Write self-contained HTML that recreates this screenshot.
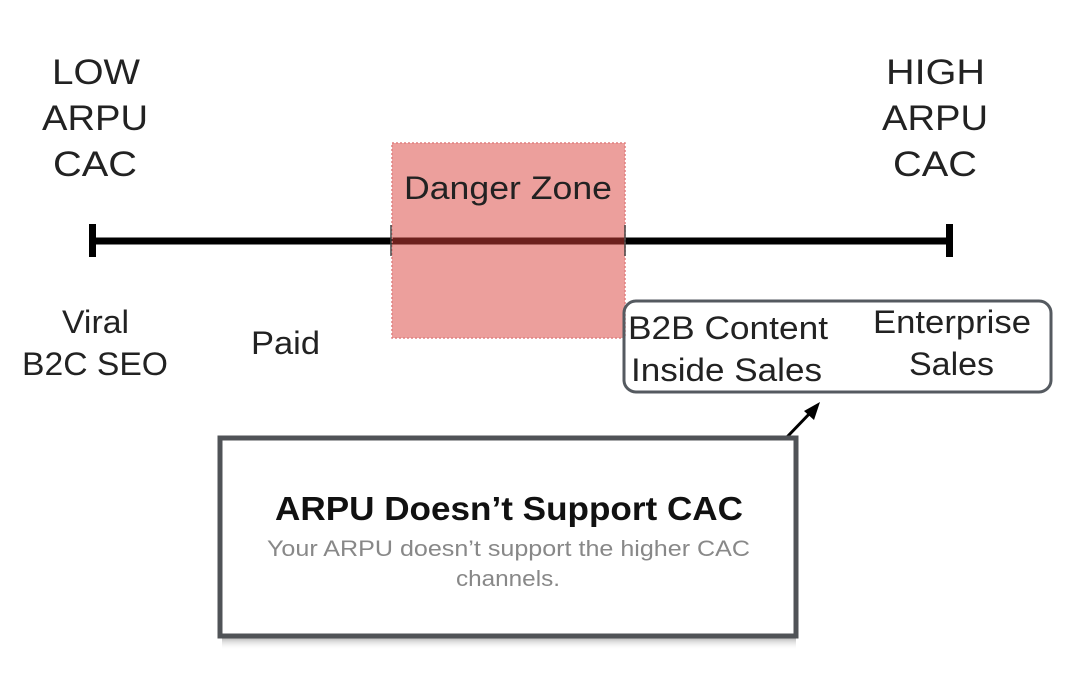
<!DOCTYPE html>
<html><head><meta charset="utf-8"><style>
html,body{margin:0;padding:0;background:#fff;}
svg{display:block;}
text{font-family:"Liberation Sans",sans-serif;}
</style></head><body>
<svg width="1078" height="688" viewBox="0 0 1078 688" xmlns="http://www.w3.org/2000/svg">
<defs>
<linearGradient id="sh" x1="0" y1="0" x2="0" y2="1">
<stop offset="0" stop-color="#777" stop-opacity="0.7"/><stop offset="1" stop-color="#fff" stop-opacity="0"/>
</linearGradient>
</defs>
<g font-size="35" fill="#222" lengthAdjust="spacingAndGlyphs">
<text x="52" y="84" textLength="88" lengthAdjust="spacingAndGlyphs">LOW</text>
<text x="42" y="130" textLength="106" lengthAdjust="spacingAndGlyphs">ARPU</text>
<text x="53" y="176" textLength="84" lengthAdjust="spacingAndGlyphs">CAC</text>
<text x="886" y="84" textLength="99" lengthAdjust="spacingAndGlyphs">HIGH</text>
<text x="882" y="130" textLength="106" lengthAdjust="spacingAndGlyphs">ARPU</text>
<text x="893" y="176" textLength="84" lengthAdjust="spacingAndGlyphs">CAC</text>
</g>
<line x1="92" y1="241" x2="950" y2="241" stroke="#000" stroke-width="7"/>
<rect x="89" y="224" width="7" height="33" fill="#000"/>
<rect x="946" y="224" width="7" height="33" fill="#000"/>
<rect x="392" y="143" width="233" height="195" fill="#d9403a" fill-opacity="0.5" stroke="#e08080" stroke-width="1.5" stroke-dasharray="2,2"/>
<line x1="391" y1="225" x2="391" y2="256" stroke="#444" stroke-width="1.5"/>
<line x1="625" y1="225" x2="625" y2="256" stroke="#444" stroke-width="1.5"/>
<text x="404" y="199" font-size="32" fill="#222" textLength="208" lengthAdjust="spacingAndGlyphs">Danger Zone</text>
<g font-size="32" fill="#222">
<text x="62" y="333" textLength="67" lengthAdjust="spacingAndGlyphs">Viral</text>
<text x="22" y="375" textLength="146" lengthAdjust="spacingAndGlyphs">B2C SEO</text>
<text x="251" y="354" textLength="69" lengthAdjust="spacingAndGlyphs">Paid</text>
<text x="873" y="333" textLength="158" lengthAdjust="spacingAndGlyphs">Enterprise</text>
<text x="909" y="375" textLength="85" lengthAdjust="spacingAndGlyphs">Sales</text>
<text x="628" y="339" textLength="200" lengthAdjust="spacingAndGlyphs">B2B Content</text>
<text x="631" y="381" textLength="191" lengthAdjust="spacingAndGlyphs">Inside Sales</text>
</g>
<rect x="624" y="301" width="427" height="91" rx="12" fill="none" stroke="#555a60" stroke-width="3"/>
<line x1="787" y1="437" x2="812" y2="411" stroke="#000" stroke-width="3"/>
<polygon points="820,402 804,411 814,420" fill="#000"/>
<rect x="222" y="636" width="574" height="14" fill="url(#sh)"/>
<rect x="220" y="438" width="576" height="198" fill="#fff" stroke="#505357" stroke-width="5"/>
<text x="275" y="520" font-size="33" font-weight="bold" fill="#111" textLength="468" lengthAdjust="spacingAndGlyphs">ARPU Doesn’t Support CAC</text>
<g font-size="22" fill="#888">
<text x="267" y="556" textLength="483" lengthAdjust="spacingAndGlyphs">Your ARPU doesn’t support the higher CAC</text>
<text x="456" y="586" textLength="104" lengthAdjust="spacingAndGlyphs">channels.</text>
</g>
</svg>
</body></html>
